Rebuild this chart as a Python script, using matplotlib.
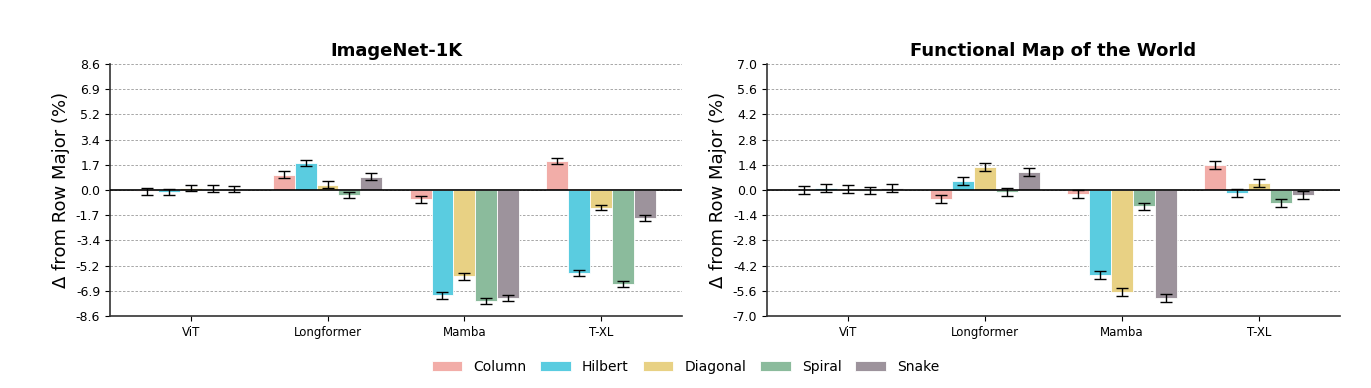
import numpy as np
import matplotlib
matplotlib.use("Agg")
import matplotlib.pyplot as plt
from matplotlib.ticker import FormatStrFormatter

# Data
models = ["ViT", "Longformer", "Mamba", "T-XL"]
orders = ["Column", "Hilbert", "Diagonal", "Spiral", "Snake"]
colors = ["#F2ADA8", "#5ACCE0", "#E8D184", "#8BBB9C", "#9D939C"]

# rows: orders, cols: models
imagenet = [
    [-0.10, 1.05, -0.64, 1.96],
    [-0.15, 1.82, -7.20, -5.66],
    [0.15, 0.36, -5.89, -1.20],
    [0.10, -0.34, -7.60, -6.43],
    [0.07, 0.91, -7.39, -1.89],
]
imagenet_err = [
    [0.22, 0.22, 0.22, 0.22],
    [0.22, 0.20, 0.22, 0.20],
    [0.22, 0.22, 0.22, 0.20],
    [0.22, 0.22, 0.20, 0.20],
    [0.20, 0.22, 0.20, 0.20],
]
fmow = [
    [0.02, -0.50, -0.22, 1.41],
    [0.09, 0.50, -4.74, -0.17],
    [0.03, 1.30, -5.65, 0.41],
    [-0.03, -0.10, -0.91, -0.70],
    [0.13, 1.00, -6.00, -0.28],
]
fmow_err = [
    [0.22, 0.22, 0.22, 0.22],
    [0.22, 0.22, 0.22, 0.20],
    [0.22, 0.22, 0.22, 0.22],
    [0.22, 0.22, 0.20, 0.22],
    [0.22, 0.22, 0.20, 0.22],
]

panels = [
    ("ImageNet-1K", imagenet, imagenet_err, 8.6),
    ("Functional Map of the World", fmow, fmow_err, 7.0),
]

fig = plt.figure(figsize=(13.71, 3.88), dpi=100)
ax_pos = [[0.0802, 0.1856, 0.4172, 0.6495], [0.5594, 0.1856, 0.4180, 0.6495]]

x = np.arange(len(models))
width = 0.16
for pos, (title, vals, errs, lim) in zip(ax_pos, panels):
    ax = fig.add_axes(pos)
    for i, name in enumerate(orders):
        ax.bar(x + (i - 2) * width, vals[i], width, yerr=errs[i],
               color=colors[i], edgecolor="white", linewidth=0.6,
               label=name, capsize=4,
               error_kw=dict(ecolor="black", elinewidth=1, capthick=1),
               zorder=2)
    ax.axhline(0, color="black", linewidth=1.2, zorder=3)
    ax.set_ylim(-lim, lim)
    ax.set_yticks(np.linspace(-lim, lim, 11))
    ax.yaxis.set_major_formatter(FormatStrFormatter("%.1f"))
    ax.yaxis.grid(True, linestyle=(0, (3, 2)), color="#999999",
                  linewidth=0.6)
    ax.set_axisbelow(True)
    ax.set_xticks(x)
    ax.set_xticklabels(models, fontsize=8.5)
    ax.tick_params(axis="y", labelsize=9)
    ax.set_ylabel("Δ from Row Major (%)", fontsize=13)
    ax.set_title(title, fontsize=13, fontweight="bold", pad=6)
    ax.spines["top"].set_visible(False)
    ax.spines["right"].set_visible(False)
    for s in ["left", "bottom"]:
        ax.spines[s].set_color("#333333")
        ax.spines[s].set_linewidth(1.2)

handles, labels = ax.get_legend_handles_labels()
fig.legend(handles, labels, loc="center", bbox_to_anchor=(0.5, 0.054),
           ncol=5, frameon=False, fontsize=10, handlelength=2.2,
           columnspacing=1.0)

fig.savefig("out.png", dpi=100)
